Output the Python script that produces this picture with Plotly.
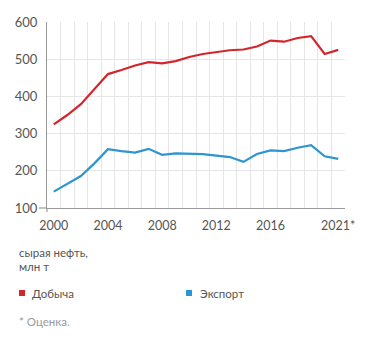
import plotly.graph_objects as go

years = list(range(2000, 2022))
production = [325, 350, 379, 419, 460, 471, 483, 492, 489, 495, 506, 514, 520, 524, 526,
              534, 550, 547, 557, 562, 514, 525]
exports = [144, 165, 186, 220, 258, 253, 249, 259, 243, 247, 247, 245, 241, 237, 224,
           245, 255, 253, 262, 269, 239, 232]
tick_years = [2000, 2004, 2008, 2012, 2016, 2021]
tick_text = ["2000", "2004", "2008", "2012", "2016", "2021*"]
y_ticks = [100, 200, 300, 400, 500, 600]

RED = "#d3262c"
BLUE = "#2d95cf"
GRID = "#e6e6e6"
AXIS = "#9a9a9a"
TEXT = "#555555"
FONT = "Lato"

fig = go.Figure()
fig.add_trace(go.Scatter(x=years, y=production, mode="lines", name="Добыча",
                         line=dict(color=RED, width=2.2)))
fig.add_trace(go.Scatter(x=years, y=exports, mode="lines", name="Экспорт",
                         line=dict(color=BLUE, width=2.2)))

# grid lines sit on the boundaries between years
boundaries = [y - 0.5 for y in years] + [years[-1] + 0.5]

W, H = 371, 344
L, R, T, B = 47, 26, 22, 136
pw, ph = W - L - R, H - T - B


def px(x):
    return (x - L) / pw


def py(y):
    return (H - B - y) / ph


fig.update_layout(
    width=W, height=H,
    margin=dict(l=L, r=R, t=T, b=B),
    paper_bgcolor="white", plot_bgcolor="white",
    showlegend=False,
    font=dict(family=FONT, size=12.5, color=TEXT),
    xaxis=dict(range=[1999.5, 2021.5], tickvals=tick_years, ticktext=tick_text,
               showgrid=False, zeroline=False, ticks="", ticklabelstandoff=6,
               showline=True, linecolor=AXIS, linewidth=1.2,
               minor=dict(tickvals=boundaries, showgrid=True, gridcolor=GRID, gridwidth=1),
               tickfont=dict(size=12.5, color=TEXT)),
    yaxis=dict(range=[100, 600], tickvals=y_ticks, showgrid=True, gridcolor=GRID,
               gridwidth=1, zeroline=False, ticks="", ticklabelstandoff=6,
               showline=True, linecolor=AXIS, linewidth=1.2,
               tickfont=dict(size=13, color=TEXT)),
)

annotations = [
    dict(text="сырая нефть,", x=px(18), y=py(252), font=dict(size=11.5, color=TEXT)),
    dict(text="млн т", x=px(18), y=py(266), font=dict(size=11.5, color=TEXT)),
    dict(text="Добыча", x=px(31), y=py(293), font=dict(size=11.5, color=TEXT)),
    dict(text="Экспорт", x=px(199), y=py(293), font=dict(size=11.5, color=TEXT)),
    dict(text="* Оценка.", x=px(18), y=py(321), font=dict(size=11.5, color="#9a9a9a")),
]
for a in annotations:
    a.update(xref="paper", yref="paper", showarrow=False,
             xanchor="left", yanchor="middle", borderpad=0)
fig.update_layout(annotations=annotations)

# legend swatches
for x0, color in [(19, RED), (186, BLUE)]:
    fig.add_shape(type="rect", xref="paper", yref="paper",
                  x0=px(x0), x1=px(x0 + 6), y0=py(290), y1=py(296),
                  fillcolor=color, line=dict(width=0))

# small stubs where the two axis lines meet
fig.add_shape(type="line", xref="paper", yref="paper", x0=px(39), x1=0, y0=0, y1=0,
              line=dict(color=AXIS, width=1.2))
fig.add_shape(type="line", xref="paper", yref="paper", x0=0, x1=0, y0=0, y1=py(212),
              line=dict(color=AXIS, width=1.2))

fig.write_html("out.html")
